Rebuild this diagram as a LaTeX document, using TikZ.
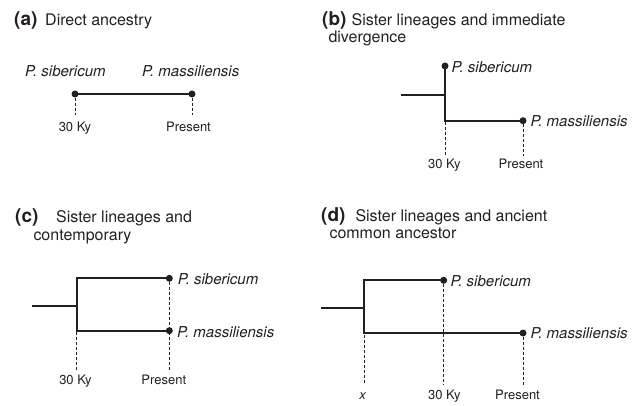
\documentclass[tikz,border=0pt]{standalone}
\usepackage{fontspec}
\setmainfont{TeX Gyre Heros}
\begin{document}
\begin{tikzpicture}[x=1pt,y=-1pt,
  ink/.style={draw=inkc},
  branch/.style={draw=inkc,line width=2.3pt},
  guide/.style={draw=inkc,line width=0.8pt,dash pattern=on 3pt off 2pt},
  tipdot/.style={circle,fill=inkc,inner sep=0pt,minimum size=7pt},
  plabel/.style={anchor=base west,inner sep=0pt,font=\fontsize{19}{21}\selectfont\bfseries,text=inkc},
  ttl/.style={anchor=base west,inner sep=0pt,font=\fontsize{16}{18}\selectfont,text=inkc},
  sp/.style={anchor=base west,inner sep=0pt,font=\fontsize{15}{17}\selectfont\itshape,text=inkc},
  ax/.style={anchor=base,inner sep=0pt,font=\fontsize{13}{15}\selectfont,text=inkc}]
\definecolor{inkc}{HTML}{231F20}
\useasboundingbox (0,0) rectangle (643,406);
% ---------- (a)
\node[plabel] (pa) at (14,25.5) {(a)};
\node[ttl] (ta) at (45,25.5) {Direct ancestry};
\node[sp] (asib) at (25,77) {P. sibericum};
\node[sp] (amas) at (142,77) {P. massiliensis};
\node[tipdot] (ad1) at (75,94) {};
\node[tipdot] (ad2) at (192,94) {};
\draw[branch] (ad1.center) -- (ad2.center);
\coordinate (ag1) at (75,115);
\coordinate (ag2) at (192,115);
\draw[guide] (ad1.south) -- (ag1);
\draw[guide] (ad2.south) -- (ag2);
\node[ax] (at1) at (75,132) {30 Ky};
\node[ax] (at2) at (188.5,132) {Present};
% ---------- (b)
\node[plabel] (pb) at (322,25.5) {(b)};
\node[ttl] (tb1) at (351.5,25.5) {Sister lineages and immediate};
\node[ttl] (tb2) at (328.3,43) {divergence};
\node[tipdot] (bd1) at (445,66) {};
\node[tipdot] (bd2) at (523,120.7) {};
\coordinate (bs) at (401,95);
\coordinate (bj) at (445,95);
\coordinate (bc) at (445,120.7);
\draw[branch] (bs) -- (bj);
\draw[branch] (bd1.center) -- (bc) -- (bd2.center);
\node[sp] (bsib) at (451.5,73) {P. sibericum};
\node[sp] (bmas) at (530.3,126.7) {P. massiliensis};
\coordinate (bg1) at (445,156.5);
\coordinate (bg2) at (523,156.5);
\coordinate (bg1t) at (445,122);
\draw[guide] (bg1t) -- (bg1);
\draw[guide] (bd2.south) -- (bg2);
\node[ax] (bt1) at (444.3,168.3) {30 Ky};
\node[ax] (bt2) at (521,168.3) {Present};
% ---------- (c)
\node[plabel] (pc) at (15,223) {(c)};
\node[ttl] (tc1) at (56,223) {Sister lineages and};
\node[ttl] (tc2) at (33.3,240.7) {contemporary};
\coordinate (cs) at (32.3,306.3);
\coordinate (cj) at (76.7,306.3);
\coordinate (ct) at (76.7,278.3);
\coordinate (cb) at (76.7,330.7);
\node[tipdot] (cd1) at (169.3,278.3) {};
\node[tipdot] (cd2) at (169.3,330.7) {};
\draw[branch] (cs) -- (cj);
\draw[branch] (cd1.center) -- (ct) -- (cb) -- (cd2.center);
\node[sp] (csib) at (177.7,284) {P. sibericum};
\node[sp] (cmas) at (177,337.3) {P. massiliensis};
\coordinate (cg1t) at (76.7,332);
\coordinate (cg1) at (76.7,369.7);
\coordinate (cg2) at (169.3,369.7);
\draw[guide] (cg1t) -- (cg1);
\draw[guide] (cd1.south) -- (cg2);
\node[ax] (ct1) at (75.5,384.7) {30 Ky};
\node[ax] (ct2) at (163.8,384.7) {Present};
% ---------- (d)
\node[plabel] (pd) at (321,222) {(d)};
\node[ttl] (td1) at (355.3,222) {Sister lineages and ancient};
\node[ttl] (td2) at (329.3,239) {common ancestor};
\coordinate (ds) at (321,308.3);
\coordinate (dj) at (364.3,308.3);
\coordinate (dt) at (364.3,280.3);
\coordinate (db) at (364.3,333);
\node[tipdot] (dd1) at (443.7,280.3) {};
\node[tipdot] (dd2) at (523,333) {};
\draw[branch] (ds) -- (dj);
\draw[branch] (dd1.center) -- (dt) -- (db) -- (dd2.center);
\node[sp] (dsib) at (450.3,286.3) {P. sibericum};
\node[sp] (dmas) at (530.3,338) {P. massiliensis};
\coordinate (dg0t) at (364.3,335);
\coordinate (dg0) at (364.3,384.5);
\coordinate (dg1) at (443.7,384.5);
\coordinate (dg2) at (523,384.5);
\draw[guide] (dg0t) -- (dg0);
\draw[guide] (dd1.south) -- (dg1);
\draw[guide] (dd2.south) -- (dg2);
\node[ax,font=\fontsize{13}{15}\selectfont\itshape] (dt0) at (362.7,399.7) {x};
\node[ax] (dt1) at (444.3,399.7) {30 Ky};
\node[ax] (dt2) at (517.5,399.7) {Present};
\end{tikzpicture}
\end{document}
